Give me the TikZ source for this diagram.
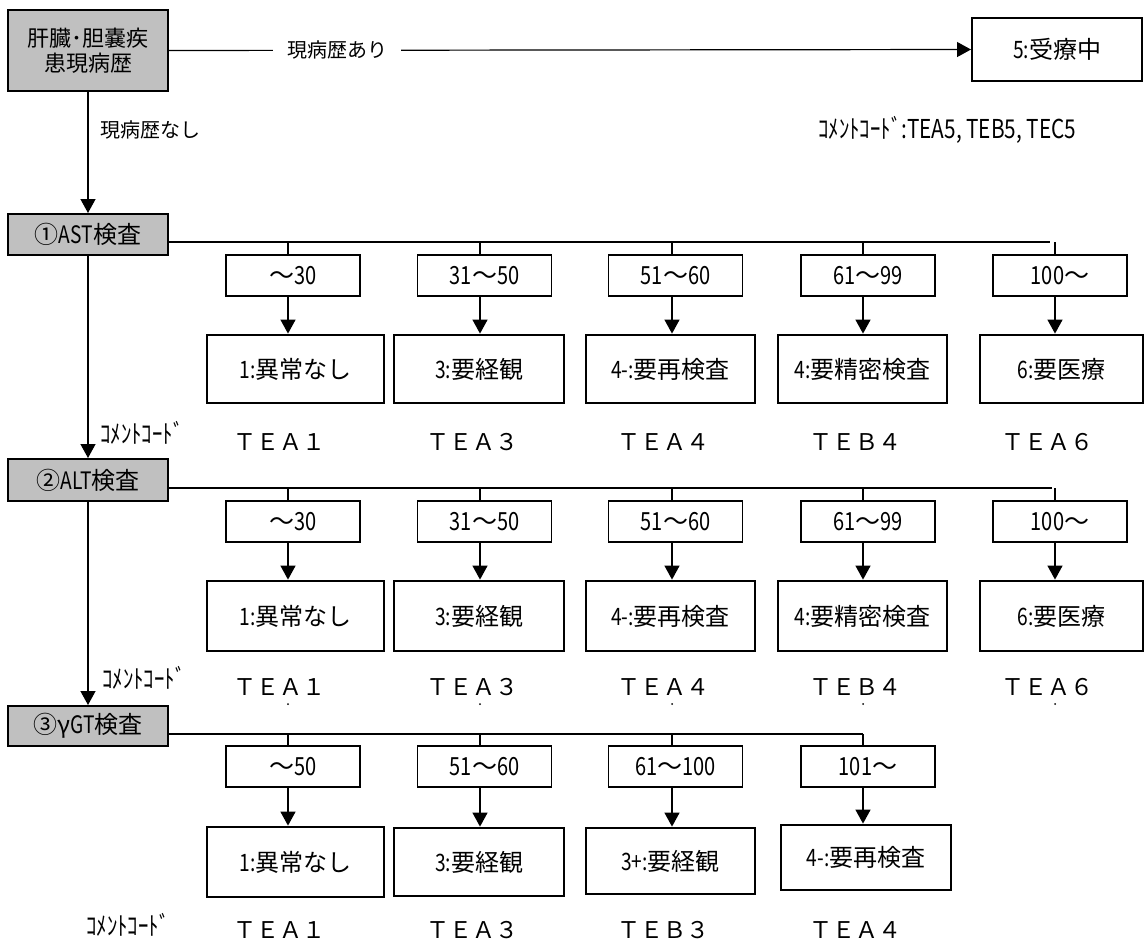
\documentclass[tikz,border=0pt]{standalone}
\usepackage{fontspec}
\setmainfont{Noto Sans CJK JP}
\newfontfamily\nar[FakeStretch=0.8]{Noto Sans CJK JP}
\usetikzlibrary{arrows.meta}
\definecolor{graybox}{RGB}{192,192,192}
\newcommand\nr[1]{{\nar #1}}
\newcommand\fs[1]{\fontsize{#1}{#1}\selectfont}
\begin{document}
\begin{tikzpicture}[x=1pt,y=-1pt,
  gbox/.style={draw, line width=2pt, fill=graybox, inner sep=0pt, minimum width=160pt, font={\fs{24}}},
  rng/.style={draw, line width=1.6pt, inner sep=0pt, minimum width=134pt, minimum height=41pt, font={\fs{25}}},
  res/.style={draw, line width=2.8pt, inner sep=0pt, font={\fs{24}}},
  lab/.style={inner sep=0pt, font={\fs{23}}},
  cc/.style={inner sep=0pt, anchor=west, font={\nar\fs{26}}},
  conn/.style={line width=1.2pt},
  arr/.style={line width=1.4pt, -{Triangle[length=14pt,width=15pt]}}
]
\useasboundingbox (0,0) rectangle (1145,942);

% top part
\node[gbox, minimum height=81pt, align=center, font={\fontsize{22}{25}\selectfont}] (top) at (88,50.5) {肝臓･胆嚢疾\\患現病歴};
\node[draw, line width=2pt, inner sep=0pt, minimum width=170pt, minimum height=63pt, font={\fs{24}}] (recv) at (1057,49.5) {\nr{5:}受療中};
\draw[line width=1.2pt, -{Triangle[length=14pt,width=15pt]}] (top.east) -- node[pos=0.21, fill=white, inner xsep=14pt, font={\fs{20}}] (ari) {現病歴あり} (recv.west);
\node[cc] (cctop) at (818,130) {ｺﾒﾝﾄｺｰﾄﾞ:TEA5, TEB5, TEC5};
\node[inner sep=0pt, anchor=west, font={\fs{20}}] (nashi) at (100,130) {現病歴なし};

% test boxes
\node[gbox, minimum height=41pt] (ast) at (88,234.5) {①\nr{AST}検査};
\node[gbox, minimum height=42pt] (alt) at (88,480) {②\nr{ALT}検査};
\node[gbox, minimum height=40pt] (ggt) at (88,726) {③γ\nr{GT}検査};
\draw[arr] (top.south) -- (ast.north);
\draw[arr] (ast.south) -- (alt.north);
\draw[arr] (alt.south) -- (ggt.north);
\node[cc] (cc1) at (100,433) {ｺﾒﾝﾄｺｰﾄﾞ};
\node[cc] (cc2) at (102,678) {ｺﾒﾝﾄｺｰﾄﾞ};
\node[cc] (cc3) at (86,925) {ｺﾒﾝﾄｺｰﾄﾞ};

% ===== AST row =====
\node[rng] (ar1) at (293,275.5) {～\nr{30}};
\node[rng] (ar2) at (484.5,275.5) {\nr{31}～\nr{50}};
\node[rng] (ar3) at (675.5,275.5) {\nr{51}～\nr{60}};
\node[rng] (ar4) at (868,275.5) {\nr{61}～\nr{99}};
\node[rng] (ar5) at (1060,275.5) {\nr{100}～};
\node[res, minimum width=177pt, minimum height=68pt] (as1) at (295.5,369) {\nr{1:}異常なし};
\node[res, minimum width=170pt, minimum height=68pt] (as2) at (479,369) {\nr{3:}要経観};
\node[res, minimum width=169pt, minimum height=68pt] (as3) at (670.5,369) {\nr{4-:}要再検査};
\node[res, minimum width=169pt, minimum height=68pt] (as4) at (862.5,369) {\nr{4:}要精密検査};
\node[res, minimum width=163pt, minimum height=68pt] (as5) at (1061.5,369) {\nr{6:}要医療};
\node[lab] (at1) at (279,442) {ＴＥＡ１};
\node[lab] (at2) at (472,442) {ＴＥＡ３};
\node[lab] (at3) at (663,442) {ＴＥＡ４};
\node[lab] (at4) at (855,442) {ＴＥＢ４};
\node[lab] (at5) at (1047,442) {ＴＥＡ６};
\foreach \i/\x in {1/288,2/480,3/672,4/863,5/1055} {\coordinate (a\i) at (\x,242);}
\coordinate (aend) at (1050,242);
\draw[conn] (ast.east |- a1) -- (aend);
\foreach \i in {1,...,5} {
  \draw[conn] (a\i) -- (a\i |- ar\i.north);
  \draw[arr] (a\i |- ar\i.south) -- (a\i |- as\i.north);
}

% ===== ALT row =====
\node[rng] (br1) at (293,521.5) {～\nr{30}};
\node[rng] (br2) at (484.5,521.5) {\nr{31}～\nr{50}};
\node[rng] (br3) at (675.5,521.5) {\nr{51}～\nr{60}};
\node[rng] (br4) at (868,521.5) {\nr{61}～\nr{99}};
\node[rng] (br5) at (1060,521.5) {\nr{100}～};
\node[res, minimum width=177pt, minimum height=70pt] (bs1) at (295.5,616) {\nr{1:}異常なし};
\node[res, minimum width=170pt, minimum height=70pt] (bs2) at (479,616) {\nr{3:}要経観};
\node[res, minimum width=169pt, minimum height=70pt] (bs3) at (670.5,616) {\nr{4-:}要再検査};
\node[res, minimum width=169pt, minimum height=70pt] (bs4) at (862.5,616) {\nr{4:}要精密検査};
\node[res, minimum width=163pt, minimum height=70pt] (bs5) at (1061.5,616) {\nr{6:}要医療};
\node[lab] (bt1) at (279,687) {ＴＥＡ１};
\node[lab] (bt2) at (472,687) {ＴＥＡ３};
\node[lab] (bt3) at (663,687) {ＴＥＡ４};
\node[lab] (bt4) at (855,687) {ＴＥＢ４};
\node[lab] (bt5) at (1047,687) {ＴＥＡ６};
\foreach \i/\x in {1/288,2/480,3/672,4/863,5/1055} {\coordinate (b\i) at (\x,488);}
\coordinate (bend) at (1052,488);
\draw[conn] (alt.east |- b1) -- (bend);
\foreach \i in {1,...,5} {
  \draw[conn] (b\i) -- (b\i |- br\i.north);
  \draw[arr] (b\i |- br\i.south) -- (b\i |- bs\i.north);
  \fill (b\i |- 0,704) circle (1pt);
}

% ===== GGT row =====
\node[rng] (cr1) at (293,766.5) {～\nr{50}};
\node[rng] (cr2) at (484.5,766.5) {\nr{51}～\nr{60}};
\node[rng] (cr3) at (675.5,766.5) {\nr{61}～\nr{100}};
\node[rng] (cr4) at (868,766.5) {\nr{101}～};
\node[res, minimum width=177pt, minimum height=70pt] (cs1) at (295.5,862) {\nr{1:}異常なし};
\node[res, minimum width=170pt, minimum height=68pt] (cs2) at (479,862) {\nr{3:}要経観};
\node[res, minimum width=169pt, minimum height=66pt] (cs3) at (670.5,861) {\nr{3+:}要経観};
\node[res, minimum width=170pt, minimum height=65pt] (cs4) at (866,857.5) {\nr{4-:}要再検査};
\node[lab] (ct1) at (279,930) {ＴＥＡ１};
\node[lab] (ct2) at (472,930) {ＴＥＡ３};
\node[lab] (ct3) at (663,930) {ＴＥＢ３};
\node[lab] (ct4) at (855,930) {ＴＥＡ４};
\foreach \i/\x in {1/288,2/480,3/672,4/863} {\coordinate (c\i) at (\x,734);}
\draw[conn] (ggt.east |- c1) -- (c4);
\foreach \i in {1,...,4} {
  \draw[conn] (c\i) -- (c\i |- cr\i.north);
  \draw[arr] (c\i |- cr\i.south) -- (c\i |- cs\i.north);
}
\end{tikzpicture}
\end{document}
